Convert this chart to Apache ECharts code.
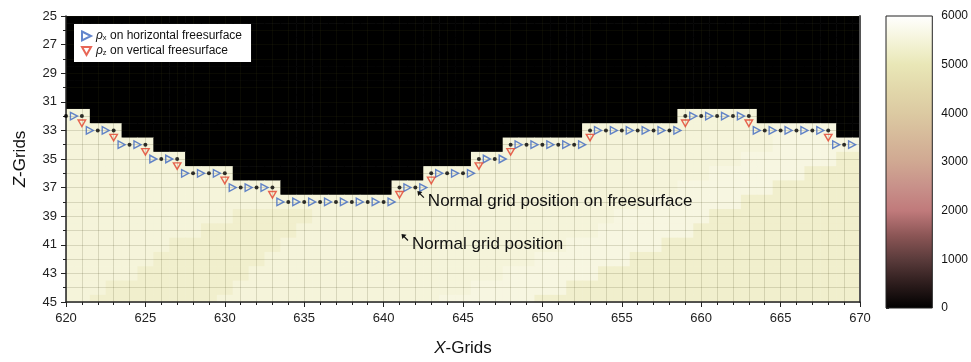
<!DOCTYPE html>
<html>
<head>
<meta charset="utf-8">
<script src="https://cdn.jsdelivr.net/npm/echarts@6/dist/echarts.min.js"></script>
<style>
html,body{margin:0;padding:0;background:#fff;}
#chart{width:971px;height:362px;}
</style>
</head>
<body>
<div id="chart"></div>
<script>
// ---------------- DATA ----------------
const xColumns = [620,621,622,623,624,625,626,627,628,629,630,631,632,633,634,635,636,637,638,639,640,
  641,642,643,644,645,646,647,648,649,650,651,652,653,654,655,656,657,658,659,660,661,662,663,664,665,666,667,668,669,670];
const zRows = [25,26,27,28,29,30,31,32,33,34,35,36,37,38,39,40,41,42,43,44,45];
// density code per cell (one string per z row, one char per x column 620..670)
const densityRows = [
  ['0000000000','0000000000','0000000000','0000000000','0000000000','0'],
  ['0000000000','0000000000','0000000000','0000000000','0000000000','0'],
  ['0000000000','0000000000','0000000000','0000000000','0000000000','0'],
  ['0000000000','0000000000','0000000000','0000000000','0000000000','0'],
  ['0000000000','0000000000','0000000000','0000000000','0000000000','0'],
  ['0000000000','0000000000','0000000000','0000000000','0000000000','0'],
  ['0000000000','0000000000','0000000000','0000000000','0000000000','0'],
  ['aa00000000','0000000000','0000000000','000000000a','aaaa000000','0'],
  ['aaaa000000','0000000000','0000000000','000aaaaaaa','aaaaacccc0','0'],
  ['aaaaaa0000','0000000000','00000000aa','aaaaaaaaaa','aaaaaccccc','c'],
  ['aaaaaaaa00','0000000000','000000aaaa','aaaaaaaaaa','aaaccccccb','b'],
  ['aaaaaaaaaa','a000000000','000aaaaaaa','aaaaaaaaaa','accccccbbb','b'],
  ['aaaaaaaaaa','aaaa000000','0aaaaaaaaa','aaaaaaaaac','cccccbbbbb','b'],
  ['aaaaaaaaaa','aaaaaaaaaa','aaaaaaaaaa','aaaaaaaccc','cccbbbbbbb','b'],
  ['aaaaaaaaaa','abbbbbaaaa','aaaaaaaaaa','aaaaaccccc','cbbbbbbbbb','b'],
  ['aaaaaaaaab','bbbbbaaaaa','aaaaaaaaaa','aaaacccccc','bbbbbbbbbb','b'],
  ['aaaaaaabbb','bbbbaaaaaa','aaaaaaaaaa','aaccccccbb','bbbbbbbbbb','b'],
  ['aaaaaabbbb','bbbaaaaaaa','aaaaaaaaaa','ccccccbbbb','bbbbbbbbbb','b'],
  ['aaaaabbbbb','bbaaaaaaaa','aaaaaaaacc','ccccbbbbbb','bbbbbbbbbb','b'],
  ['aaabbbbbbb','baaaaaaaaa','aaaaaacccc','ccbbbbbbbb','bbbbbbbbbb','b'],
  ['aabbbbbbbb','aaaaaaaaaa','aaaacccccc','bbbbbbbbbb','bbbbbbbbbb','b']
];
const densityValues = { '0': 0, 'a': 5500, 'b': 5320, 'c': 5600 };

// rho_x on horizontal freesurface (blue triangles)
const rhoXPoints = [
  [620.5,32],[621.5,33],[622.5,33],[623.5,34],[624.5,34],[625.5,35],[626.5,35],
  [627.5,36],[628.5,36],[629.5,36],[630.5,37],[631.5,37],[632.5,37],
  [633.5,38],[634.5,38],[635.5,38],[636.5,38],[637.5,38],[638.5,38],[639.5,38],[640.5,38],
  [641.5,37],[642.5,37],[643.5,36],[644.5,36],[645.5,36],[646.5,35],[647.5,35],
  [648.5,34],[649.5,34],[650.5,34],[651.5,34],[652.5,34],
  [653.5,33],[654.5,33],[655.5,33],[656.5,33],[657.5,33],[658.5,33],
  [659.5,32],[660.5,32],[661.5,32],[662.5,32],
  [663.5,33],[664.5,33],[665.5,33],[666.5,33],[667.5,33],[668.5,34],[669.5,34]
];
// rho_z on vertical freesurface (red triangles)
const rhoZPoints = [
  [621,32.5],[623,33.5],[625,34.5],[627,35.5],[630,36.5],[633,37.5],
  [641,37.5],[643,36.5],[646,35.5],[648,34.5],[653,33.5],[659,32.5],[663,32.5],[668,33.5]
];
// normal grid positions on the freesurface (black dots)
const normalPoints = [
  [620,32],[621,32],[622,33],[623,33],[624,34],[625,34],[626,35],[627,35],
  [628,36],[629,36],[630,36],[631,37],[632,37],[633,37],
  [634,38],[635,38],[636,38],[637,38],[638,38],[639,38],[640,38],
  [641,37],[642,37],[643,36],[644,36],[645,36],[646,35],[647,35],
  [648,34],[649,34],[650,34],[651,34],[652,34],
  [653,33],[654,33],[655,33],[656,33],[657,33],[658,33],
  [659,32],[660,32],[661,32],[662,32],[663,32],
  [664,33],[665,33],[666,33],[667,33],[668,33],[669,34]
];
const annotations = [
  [642, 37, 'Normal grid position on freesurface'],
  [641, 40, 'Normal grid position']
];
const legendNames = ['ρx on horizontal freesurface', 'ρz on vertical freesurface'];
const colorbarTicks = [0, 1000, 2000, 3000, 4000, 5000, 6000];
const colorbarColors = ['#000000','#2c1c1c','#5a3b3b','#8c5656','#c07a7b','#c8918a','#d0a892',
  '#d6b99a','#dccaa2','#e2d8ab','#e9e7b7','#f5f4da','#ffffff'];

// ---------------- BUILD ----------------
const heatData = [];
densityRows.forEach((segs, ri) => {
  const row = segs.join('');
  for (let ci = 0; ci < xColumns.length; ci++) {
    heatData.push([xColumns[ci], zRows[ri], densityValues[row[ci]]]);
  }
});

const FONT = '"Liberation Sans", Arial, sans-serif';
const chart = echarts.init(document.getElementById('chart'), null, { renderer: 'canvas' });
const gridLine = { color: 'rgba(60,60,20,0.16)', width: 1 };

const option = {
  animation: false,
  textStyle: { fontFamily: FONT },
  grid: [
    { left: 66, right: 111, top: 16, bottom: 54, containLabel: false },
    { left: 886, width: 47, top: 16, bottom: 54, containLabel: false }
  ],
  visualMap: {
    show: false, type: 'continuous', min: 0, max: 6000, dimension: 2, seriesIndex: 0,
    inRange: { color: colorbarColors }
  },
  legend: {
    data: legendNames, orient: 'vertical', left: 74, top: 24, z: 20,
    backgroundColor: '#fff', padding: [6, 9, 5, 7], itemGap: 3,
    itemWidth: 9, itemHeight: 9,
    formatter: function (name) {
      const sub = name.charAt(1);
      return '{rho|ρ}{sub|' + sub + '}{t|' + name.slice(2) + '}';
    },
    textStyle: {
      fontFamily: FONT, fontSize: 12, color: '#111',
      rich: {
        rho: { fontFamily: FONT, fontSize: 12, fontStyle: 'italic', color: '#111' },
        sub: { fontFamily: FONT, fontSize: 7.5, color: '#111', verticalAlign: 'bottom', padding: [4, 0, 0, 0] },
        t: { fontFamily: FONT, fontSize: 12, color: '#111' }
      }
    }
  },
  xAxis: [
    {
      type: 'value', gridIndex: 0, min: 620, max: 670, interval: 5, z: 3,
      name: '{i|X}-Grids', nameLocation: 'middle', nameGap: 38,
      nameTextStyle: { fontFamily: FONT, fontSize: 17, color: '#111', rich: { i: { fontFamily: FONT, fontSize: 17, fontStyle: 'italic', color: '#111' } } },
      axisLine: { show: true, onZero: false, lineStyle: { color: '#222', width: 1.5 } },
      axisTick: { show: true, length: 5, lineStyle: { color: '#222', width: 1 } },
      minorTick: { show: true, splitNumber: 5, length: 3, lineStyle: { color: '#222', width: 1 } },
      axisLabel: { fontFamily: FONT, fontSize: 13, color: '#222', margin: 10 },
      splitLine: { show: true, lineStyle: gridLine },
      minorSplitLine: { show: true, lineStyle: gridLine }
    },
    { type: 'value', gridIndex: 1, min: 0, max: 1, show: false }
  ],
  yAxis: [
    {
      type: 'value', gridIndex: 0, min: 25, max: 45, interval: 2, inverse: true, z: 3,
      name: '{i|Z}-Grids', nameLocation: 'middle', nameGap: 37, nameRotate: 90,
      nameTextStyle: { fontFamily: FONT, fontSize: 17, color: '#111', rich: { i: { fontFamily: FONT, fontSize: 17, fontStyle: 'italic', color: '#111' } } },
      axisLine: { show: true, onZero: false, lineStyle: { color: '#222', width: 1.5 } },
      axisTick: { show: true, length: 5, lineStyle: { color: '#222', width: 1 } },
      minorTick: { show: true, splitNumber: 2, length: 3, lineStyle: { color: '#222', width: 1 } },
      axisLabel: { fontFamily: FONT, fontSize: 13, color: '#222', margin: 9 },
      splitLine: { show: true, lineStyle: gridLine },
      minorSplitLine: { show: true, lineStyle: gridLine }
    },
    {
      type: 'value', gridIndex: 0, min: 25, max: 45, inverse: true, position: 'right', z: 3,
      axisLine: { show: true, onZero: false, lineStyle: { color: '#555', width: 2 } },
      axisTick: { show: false }, axisLabel: { show: false }, splitLine: { show: false }
    },
    {
      type: 'value', gridIndex: 1, min: 0, max: 6000, interval: 1000, position: 'right',
      axisLine: { show: false },
      axisTick: { show: true, length: 3, lineStyle: { color: '#333', width: 1 } },
      axisLabel: { fontFamily: FONT, fontSize: 12, color: '#111', margin: 9, formatter: function (v) { return String(v); } },
      splitLine: { show: false }
    }
  ],
  series: [
    {
      type: 'custom', name: 'density', xAxisIndex: 0, yAxisIndex: 0, z: 1, clip: true,
      data: heatData,
      encode: { x: 0, y: 1 },
      renderItem: function (params, api) {
        const x = api.value(0), z = api.value(1);
        const p0 = api.coord([x - 0.5, z - 0.5]);
        const p1 = api.coord([x + 0.5, z + 0.5]);
        return {
          type: 'rect',
          shape: { x: Math.min(p0[0], p1[0]), y: Math.min(p0[1], p1[1]),
                   width: Math.abs(p1[0] - p0[0]) + 0.6, height: Math.abs(p1[1] - p0[1]) + 0.6 },
          style: { fill: api.visual('color') }
        };
      }
    },
    {
      type: 'scatter', name: legendNames[0], xAxisIndex: 0, yAxisIndex: 0, z: 5,
      data: rhoXPoints, symbol: 'path://M0,0L10,5L0,10Z', symbolSize: [7, 7.5],
      itemStyle: { color: 'rgba(255,255,255,0)', borderColor: '#3c66c0', borderWidth: 1.4 }
    },
    {
      type: 'scatter', name: legendNames[1], xAxisIndex: 0, yAxisIndex: 0, z: 5,
      data: rhoZPoints, symbol: 'path://M0,0L10,0L5,9Z', symbolSize: [7.5, 6.5],
      itemStyle: { color: 'rgba(255,255,255,0)', borderColor: '#e2402c', borderWidth: 1.4 }
    },
    {
      type: 'scatter', name: 'normal', xAxisIndex: 0, yAxisIndex: 0, z: 5,
      data: normalPoints, symbol: 'circle', symbolSize: 4,
      itemStyle: { color: '#000' }
    },
    {
      type: 'custom', name: 'annotation', xAxisIndex: 0, yAxisIndex: 0, z: 6, clip: false,
      data: annotations,
      renderItem: function (params, api) {
        const p = api.coord([api.value(0), api.value(1)]);
        const tx = p[0] + 2, ty = p[1] + 3.5;
        return {
          type: 'group',
          children: [
            { type: 'polygon', shape: { points: [[tx, ty], [tx + 0.8, ty + 5], [tx + 5, ty + 0.8]] }, style: { fill: '#111' } },
            { type: 'line', shape: { x1: tx + 2.5, y1: ty + 2.5, x2: tx + 6.5, y2: ty + 6.5 }, style: { stroke: '#111', lineWidth: 1.2 } },
            { type: 'text', x: p[0] + 12.5, y: p[1] + 14,
              style: { text: annotations[params.dataIndex][2], fill: '#111', font: '17px ' + FONT, verticalAlign: 'middle', align: 'left' } }
          ]
        };
      }
    },
    {
      type: 'custom', name: 'colorbar', xAxisIndex: 1, yAxisIndex: 2, z: 2, clip: false,
      data: [[0, 0, 6000]],
      renderItem: function (params, api) {
        const pTop = api.coord([0, api.value(2)]);
        const pBot = api.coord([1, api.value(1)]);
        const stops = colorbarColors.map((c, i) => ({ offset: i / (colorbarColors.length - 1), color: c }));
        return {
          type: 'rect',
          shape: { x: pTop[0], y: pTop[1], width: pBot[0] - pTop[0], height: pBot[1] - pTop[1] },
          style: { fill: new echarts.graphic.LinearGradient(0, 1, 0, 0, stops), stroke: '#222', lineWidth: 1 }
        };
      }
    }
  ]
};
chart.setOption(option);
</script>
</body>
</html>
